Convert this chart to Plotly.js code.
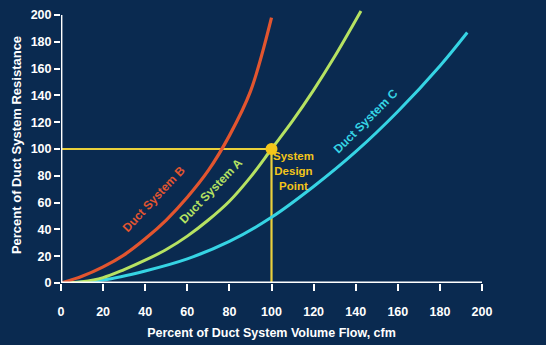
<!DOCTYPE html>
<html><head><meta charset="utf-8">
<script src="https://cdn.plot.ly/plotly-3.0.1.min.js"></script>
<style>html,body{margin:0;padding:0;background:#0a2a50;}</style>
</head><body><div id="chart" style="width:546px;height:345px;"></div>
<script>
// Percent of volume flow (x) and percent of resistance (y)
const flowA = [0, 10, 20, 30, 40, 50, 60, 70, 80, 90, 100, 110, 120, 130, 142.5];
const resA  = [0, 1, 4, 10, 17, 25, 35, 47, 61, 79, 100, 121, 144, 169, 203];
const flowB = [0, 10, 20, 30, 40, 50, 60, 70, 80, 90, 100];
const resB  = [0, 5, 12, 21, 33, 47, 64, 84, 110, 143, 198];
const flowC = [0, 20, 40, 60, 80, 100, 120, 140, 160, 180, 193];
const resC  = [0, 2.3, 9, 18, 31, 49, 72, 98, 128, 162, 187];
const designFlow = [100];
const designRes = [100];
const xTicks = [0, 20, 40, 60, 80, 100, 120, 140, 160, 180, 200];
const yTicks = [0, 20, 40, 60, 80, 100, 120, 140, 160, 180, 200];
const labelA = 'Duct System A', labelB = 'Duct System B', labelC = 'Duct System C';
const designLabel = 'System<br>Design<br>Point';
const xTitle = 'Percent of Duct System Volume Flow, cfm';
const yTitle = 'Percent of Duct System Resistance';

const BG = '#0a2a50';
const FONT = 'Liberation Sans, Arial, sans-serif';
const RED = '#e2552f', GREEN = '#b6e262', CYAN = '#36d4e4', YEL = '#e9d03c', GOLD = '#f3c51a';

const traces = [
  {x: [0, designFlow[0]], y: [designRes[0], designRes[0]], mode: 'lines', line: {color: YEL, width: 2.2}, hoverinfo: 'skip'},
  {x: [designFlow[0], designFlow[0]], y: [0, designRes[0]], mode: 'lines', line: {color: YEL, width: 2.2}, hoverinfo: 'skip'},
  {x: flowC, y: resC, name: labelC, mode: 'lines', line: {color: CYAN, width: 3, shape: 'spline', smoothing: 1}},
  {x: flowA, y: resA, name: labelA, mode: 'lines', line: {color: GREEN, width: 3, shape: 'spline', smoothing: 1}},
  {x: flowB, y: resB, name: labelB, mode: 'lines', line: {color: RED, width: 3.2, shape: 'spline', smoothing: 1}},
  {x: designFlow, y: designRes, mode: 'markers', marker: {color: GOLD, size: 12}, cliponaxis: false}
];

const ann = (x, y, text, color, angle, size) => ({
  x, y, xref: 'x', yref: 'y', text, showarrow: false, textangle: angle,
  font: {family: FONT, size, color, weight: 700}
});

const layout = {
  width: 546, height: 345,
  margin: {l: 61, r: 64, t: 7, b: 62},
  paper_bgcolor: BG, plot_bgcolor: BG,
  showlegend: false,
  font: {family: FONT, color: '#ffffff'},
  xaxis: {
    range: [0, 200], tickvals: xTicks, ticktext: xTicks.map(String),
    showgrid: false, zeroline: false, showline: false,
    ticks: 'outside', ticklen: 7, tickwidth: 2, tickcolor: '#ffffff',
    ticklabelstandoff: 10,
    tickfont: {family: FONT, size: 12.5, color: '#ffffff', weight: 700},
    title: {text: xTitle, standoff: 10, font: {family: FONT, size: 12.5, color: '#ffffff', weight: 700}}
  },
  yaxis: {
    range: [0, 206], tickvals: yTicks, ticktext: yTicks.map(String),
    showgrid: false, zeroline: false, showline: false,
    ticks: 'outside', ticklen: 6, tickwidth: 2, tickcolor: '#ffffff',
    tickfont: {family: FONT, size: 12.5, color: '#ffffff', weight: 700},
    title: {text: yTitle, standoff: 6, font: {family: FONT, size: 13, color: '#ffffff', weight: 700}}
  },
  shapes: [
    {type: 'line', xref: 'x', yref: 'y', x0: 0, y0: 0, x1: 0, y1: 200, line: {color: '#ffffff', width: 2.8}},
    {type: 'line', xref: 'x', yref: 'y', x0: 0, y0: 0, x1: 200, y1: 0, line: {color: '#ffffff', width: 2.8}}
  ],
  annotations: [
    ann(44, 63, labelB, RED, -47, 12),
    ann(71.3, 68.4, labelA, GREEN, -46, 12),
    ann(144.8, 121, labelC, CYAN, -45, 12),
    Object.assign(ann(110.6, 83.4, designLabel, GOLD, 0, 11.5), {align: 'center'})
  ]
};

Plotly.newPlot('chart', traces, layout, {displayModeBar: false, staticPlot: true});
</script></body></html>
